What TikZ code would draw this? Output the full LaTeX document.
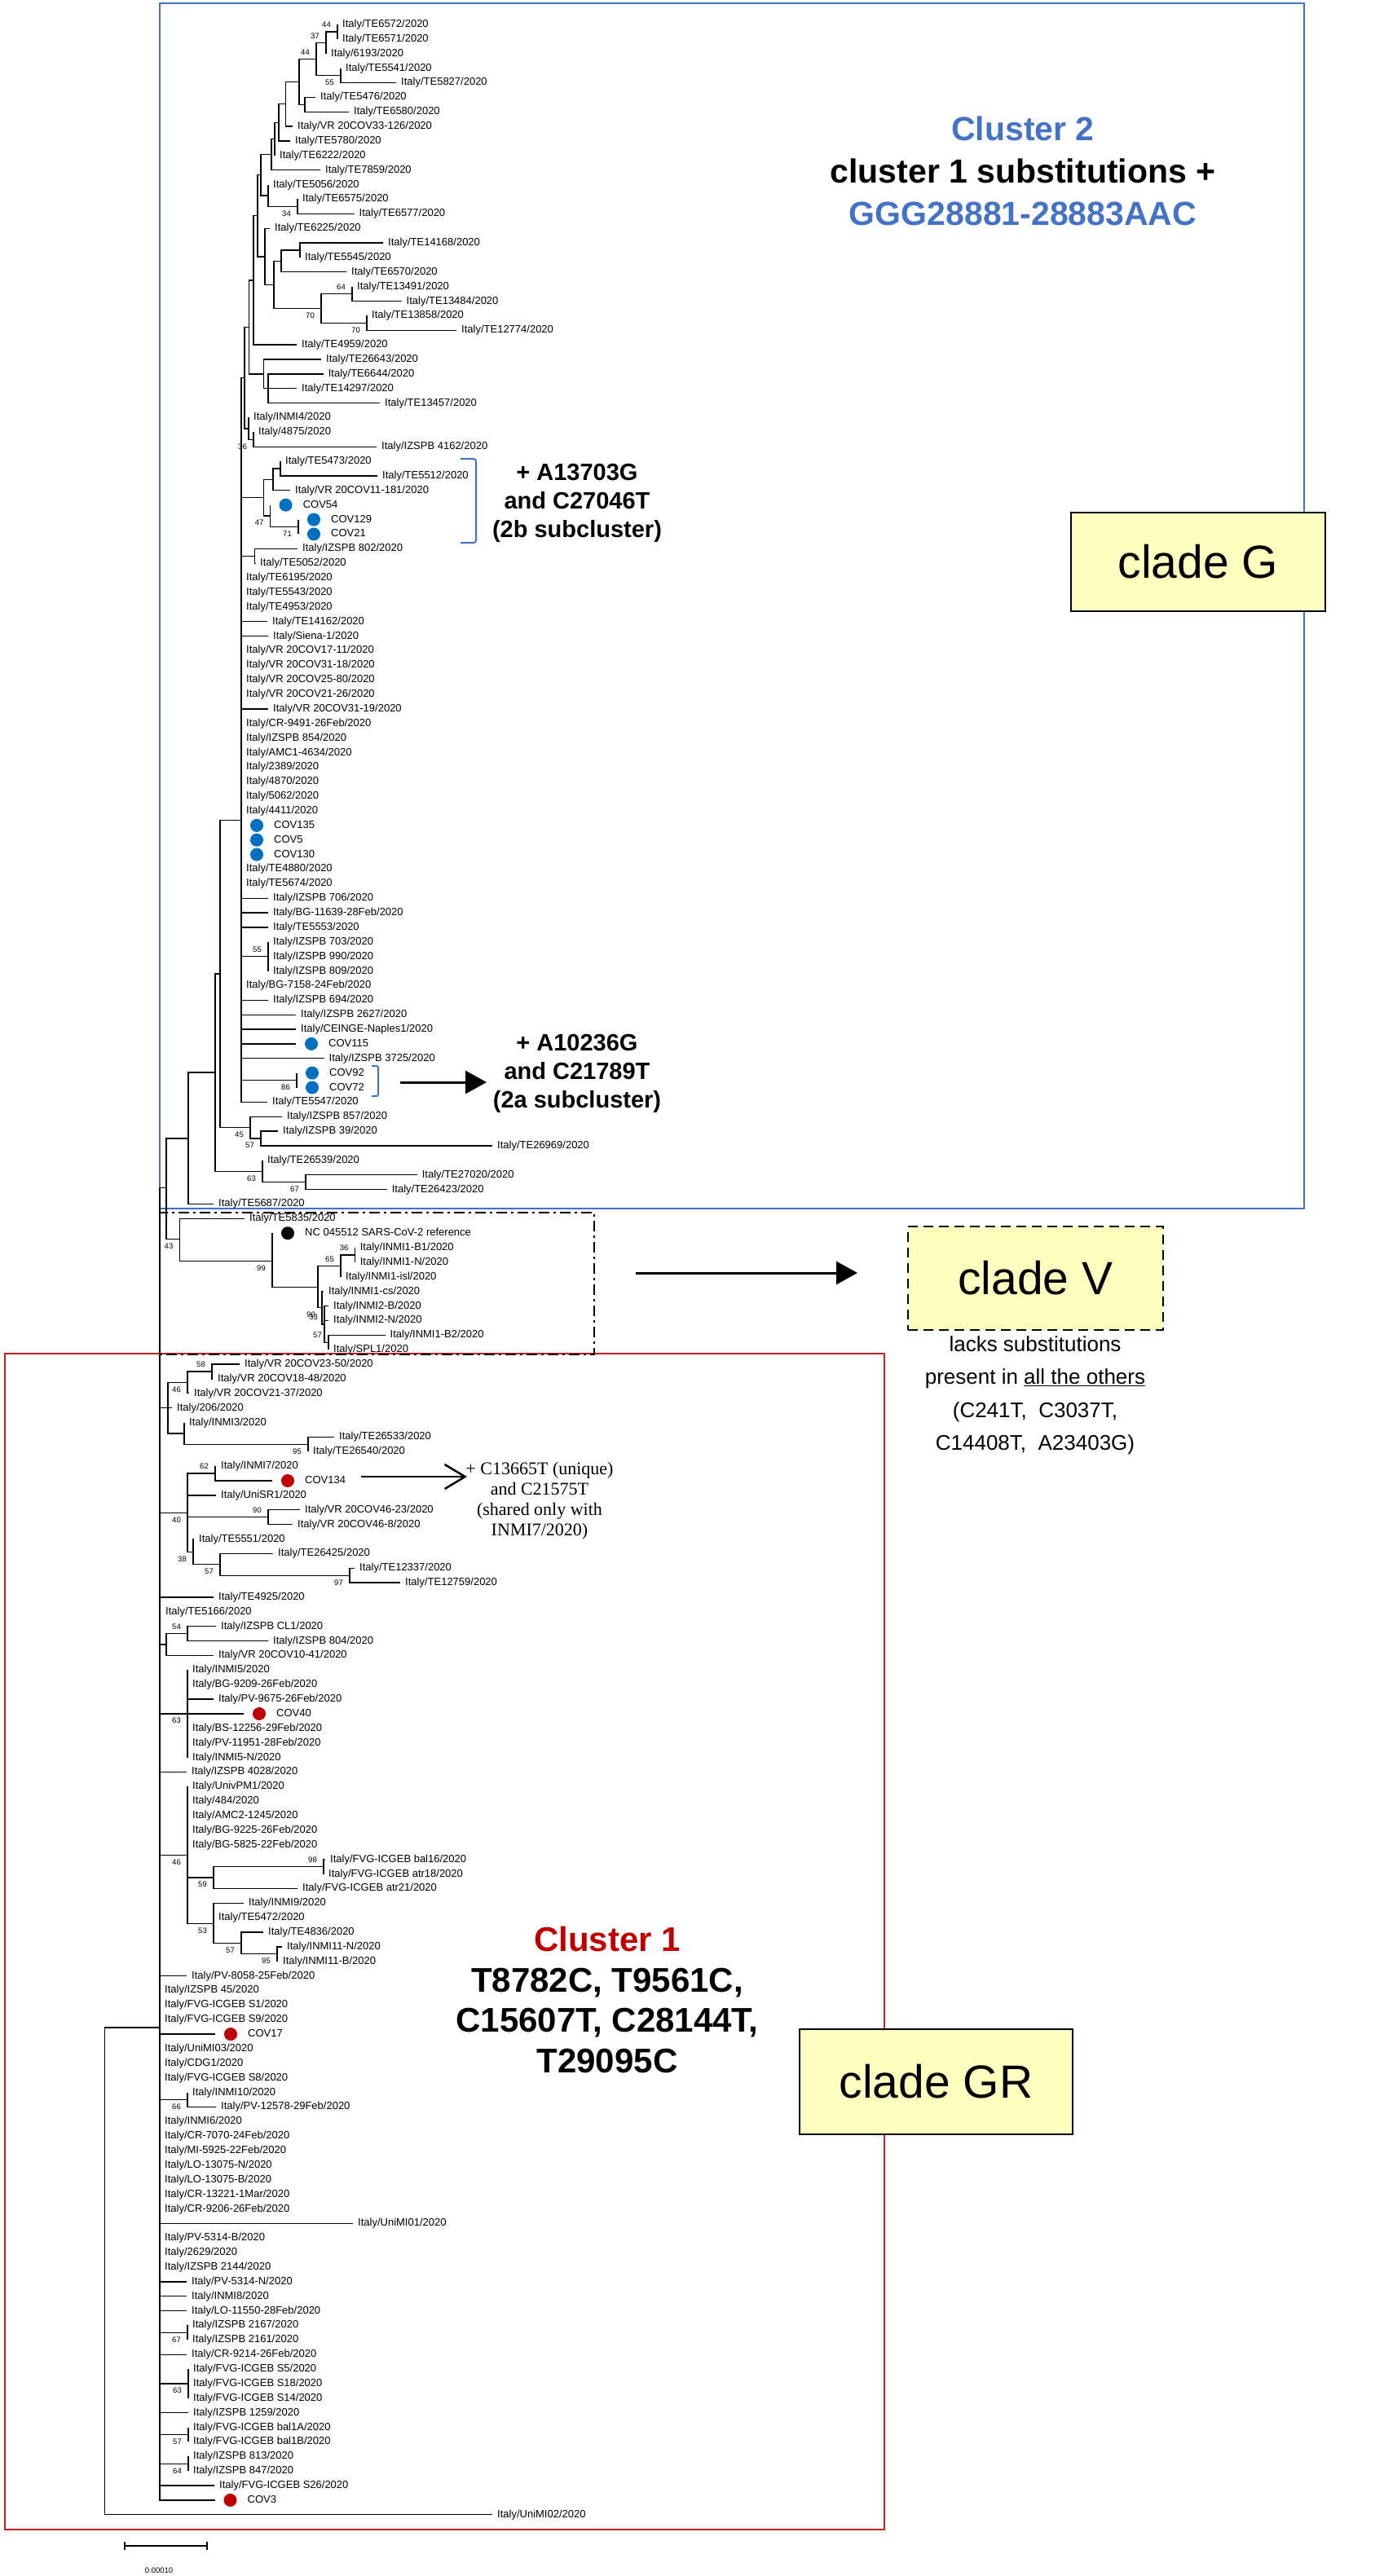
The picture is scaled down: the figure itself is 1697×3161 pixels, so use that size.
\documentclass[tikz,border=0pt]{standalone}
\usepackage{fontspec}
\setmainfont{Liberation Sans}
\newfontfamily\noteserif{Liberation Serif}
\usetikzlibrary{arrows.meta}
\definecolor{dotblue}{RGB}{0,112,192}
\definecolor{dotred}{RGB}{192,0,0}
\definecolor{frameblue}{RGB}{68,114,196}
\definecolor{framered}{RGB}{204,30,30}
\definecolor{cladefill}{RGB}{255,255,192}

\begin{document}
\begin{tikzpicture}[x=1pt, y=-1pt,
  br/.style={line width=1.3pt},
  lf/.style={anchor=west, inner xsep=6pt, inner ysep=0pt, text height=9.5pt, text depth=2.5pt, font=\fontsize{13}{15}\selectfont},
  cl/.style={lf, inner xsep=2pt},
  dotb/.style={circle, fill=dotblue, minimum size=16pt, inner sep=0pt, outer sep=11pt, anchor=west},
  dotr/.style={dotb, fill=dotred},
  dotk/.style={dotb, fill=black},
  bsa/.style={anchor=south east, inner sep=2pt, xshift=-6pt, yshift=3pt, font=\fontsize{9.5}{10}\selectfont},
  bsb/.style={anchor=north east, inner sep=2pt, xshift=-6pt, yshift=-3pt, font=\fontsize{9.5}{10}\selectfont},
  cbox/.style={draw, line width=2.5pt, fill=cladefill, inner sep=0pt, font=\fontsize{57}{60}\selectfont},
  fat/.style={line width=3pt, -{Triangle[length=26pt, width=28pt]}},
  barb/.style={line width=2.5pt, -{Straight Barb[length=25pt, width=30pt]}}
]
\useasboundingbox (0,0) rectangle (1697,3161);
\fill[white] (0,0) rectangle (1697,3161);

% frames
\draw[frameblue, line width=2pt] (196,4) rectangle (1600,1483);
\draw[framered, line width=2pt] (6,1661) rectangle (1085,3104);
\draw[line width=2.5pt, dash pattern=on 13pt off 5pt on 3pt off 5pt] (196,1488) rectangle (729,1662);

\begin{scope}[shift={(0,12.13)}, y=-17.87pt]
% cluster 2
\coordinate (n1) at (414,1.5);
\coordinate (n2) at (400,2.25);
\coordinate (n3) at (388,3.375);
\coordinate (n4) at (418,4.5);
\coordinate (n5) at (367,4.94);
\coordinate (n6) at (374,6.5);
\coordinate (n7) at (350.5,6.47);
\coordinate (n8) at (342,7.73);
\coordinate (n9) at (337,8.87);
\coordinate (n10) at (333,9.93);
\coordinate (n11) at (320,11.34);
\coordinate (n12) at (329,12.75);
\coordinate (n13) at (365,13.5);
\coordinate (n15) at (325,16.94);
\coordinate (n16) at (336,18.875);
\coordinate (n17) at (345,17.25);
\coordinate (n18) at (394,20.5);
\coordinate (n19) at (368,16.5);
\coordinate (n20) at (432,19.5);
\coordinate (n21) at (450,21.5);
\coordinate (n22) at (316,14.14);
\coordinate (n23) at (311,18.57);
\coordinate (n24) at (305.5,21.79);
\coordinate (n25) at (323.5,25);
\coordinate (n26) at (329,26);
\coordinate (n27) at (300,25.27);
\coordinate (n28) at (311,29.5);
\coordinate (n29) at (305,28.75);
\coordinate (n30) at (296,55.66);
\coordinate (n32) at (270,66.2);
\coordinate (n33) at (307,76.75);
\coordinate (n34) at (320,77.5);
\coordinate (n36) at (312.6,37.5);
\coordinate (n37) at (344,31.5);
\coordinate (n38) at (335,32.25);
\coordinate (n40) at (366,35.5);
\coordinate (n41) at (331.6,34.75);
\coordinate (n42) at (323.5,33.5);
\coordinate (n43) at (329,65);
\coordinate (n44) at (364,73.5);
\coordinate (n45) at (264,72.97);
\coordinate (n46) at (322,79.75);
\coordinate (n47) at (375,80.5);
\coordinate (n48) at (231,77.49);
\coordinate (n49) at (204,80.9);
% clade V
\coordinate (n50) at (220.5,84.4);
\coordinate (n51) at (334,85.93);
\coordinate (n52) at (390,87.7);
\coordinate (n53) at (418,86.25);
\coordinate (n55) at (435.6,85.5);
\coordinate (n56) at (395,89.1);
\coordinate (n58) at (398,90.25);
\coordinate (n57) at (403,91.5);
% cluster 1
\coordinate (A) at (196,138.55);
\coordinate (root) at (128.7,155.3);
\coordinate (nJ) at (260,93.5);
\coordinate (nK) at (230,94.25);
\coordinate (nL) at (206,96);
\coordinate (nM) at (226,97.75);
\coordinate (nQ) at (378,98.5);
\coordinate (nD) at (264,100.5);
\coordinate (nE) at (329,103.5);
\coordinate (nH) at (429,107.5);
\coordinate (nG) at (270,106.75);
\coordinate (nF) at (237,105.9);
\coordinate (nC) at (230,103.2);
\coordinate (nT) at (230,111.5);
\coordinate (nR) at (204,112.25);
\coordinate (nI5) at (230,117);
\coordinate (nV) at (397,127.5);
\coordinate (nU) at (262,128.25);
\coordinate (nY) at (340,133.5);
\coordinate (nX) at (296,132.75);
\coordinate (nW) at (262,131.4);
\coordinate (nS) at (230,126.7);
\coordinate (nZ) at (230,143.5);
\coordinate (n67) at (230,159.5);
\coordinate (n63) at (231,163);
\coordinate (n57b) at (231,166.5);
\coordinate (n64) at (231,168.5);

\node[lf] (l1) at (414,1) {Italy/TE6572/2020};
\node[lf] (l2) at (414,2) {Italy/TE6571/2020};
\node[lf] (l3) at (400,3) {Italy/6193/2020};
\node[lf] (l4) at (418,4) {Italy/TE5541/2020};
\node[lf] (l5) at (486,5) {Italy/TE5827/2020};
\node[lf] (l6) at (387,6) {Italy/TE5476/2020};
\node[lf] (l7) at (428,7) {Italy/TE6580/2020};
\node[lf] (l8) at (359,8) {Italy/VR 20COV33-126/2020};
\node[lf] (l9) at (356,9) {Italy/TE5780/2020};
\node[lf] (l10) at (337,10) {Italy/TE6222/2020};
\node[lf] (l11) at (393,11) {Italy/TE7859/2020};
\node[lf] (l12) at (329,12) {Italy/TE5056/2020};
\node[lf] (l13) at (365,13) {Italy/TE6575/2020};
\node[lf] (l14) at (434.5,14) {Italy/TE6577/2020};
\node[lf] (l15) at (331,15) {Italy/TE6225/2020};
\node[lf] (l16) at (470,16) {Italy/TE14168/2020};
\node[lf] (l17) at (368,17) {Italy/TE5545/2020};
\node[lf] (l18) at (425,18) {Italy/TE6570/2020};
\node[lf] (l19) at (432,19) {Italy/TE13491/2020};
\node[lf] (l20) at (492.5,20) {Italy/TE13484/2020};
\node[lf] (l21) at (450,21) {Italy/TE13858/2020};
\node[lf] (l22) at (560,22) {Italy/TE12774/2020};
\node[lf] (l23) at (364,23) {Italy/TE4959/2020};
\node[lf] (l24) at (394,24) {Italy/TE26643/2020};
\node[lf] (l25) at (396.6,25) {Italy/TE6644/2020};
\node[lf] (l26) at (364,26) {Italy/TE14297/2020};
\node[lf] (l27) at (466,27) {Italy/TE13457/2020};
\node[lf] (l28) at (305,28) {Italy/INMI4/2020};
\node[lf] (l29) at (311,29) {Italy/4875/2020};
\node[lf] (l30) at (462,30) {Italy/IZSPB 4162/2020};
\node[lf] (l31) at (344,31) {Italy/TE5473/2020};
\node[lf] (l32) at (463,32) {Italy/TE5512/2020};
\node[lf] (l33) at (356,33) {Italy/VR 20COV11-181/2020};
\node[dotb] (l34) at (331.6,34) {}; \node[cl] (l34t) at (l34.east) {COV54};
\node[dotb] (l35) at (366,35) {}; \node[cl] (l35t) at (l35.east) {COV129};
\node[dotb] (l36) at (366,36) {}; \node[cl] (l36t) at (l36.east) {COV21};
\node[lf] (l37) at (365,37) {Italy/IZSPB 802/2020};
\node[lf] (l38) at (313,38) {Italy/TE5052/2020};
\node[lf] (l39) at (296,39) {Italy/TE6195/2020};
\node[lf] (l40) at (296,40) {Italy/TE5543/2020};
\node[lf] (l41) at (296,41) {Italy/TE4953/2020};
\node[lf] (l42) at (328,42) {Italy/TE14162/2020};
\node[lf] (l43) at (329,43) {Italy/Siena-1/2020};
\node[lf] (l44) at (296,44) {Italy/VR 20COV17-11/2020};
\node[lf] (l45) at (296,45) {Italy/VR 20COV31-18/2020};
\node[lf] (l46) at (296,46) {Italy/VR 20COV25-80/2020};
\node[lf] (l47) at (296,47) {Italy/VR 20COV21-26/2020};
\node[lf] (l48) at (329,48) {Italy/VR 20COV31-19/2020};
\node[lf] (l49) at (296,49) {Italy/CR-9491-26Feb/2020};
\node[lf] (l50) at (296,50) {Italy/IZSPB 854/2020};
\node[lf] (l51) at (296,51) {Italy/AMC1-4634/2020};
\node[lf] (l52) at (296,52) {Italy/2389/2020};
\node[lf] (l53) at (296,53) {Italy/4870/2020};
\node[lf] (l54) at (296,54) {Italy/5062/2020};
\node[lf] (l55) at (296,55) {Italy/4411/2020};
\node[dotb] (l56) at (296,56) {}; \node[cl] (l56t) at (l56.east) {COV135};
\node[dotb] (l57) at (296,57) {}; \node[cl] (l57t) at (l57.east) {COV5};
\node[dotb] (l58) at (296,58) {}; \node[cl] (l58t) at (l58.east) {COV130};
\node[lf] (l59) at (296,59) {Italy/TE4880/2020};
\node[lf] (l60) at (296,60) {Italy/TE5674/2020};
\node[lf] (l61) at (329,61) {Italy/IZSPB 706/2020};
\node[lf] (l62) at (329,62) {Italy/BG-11639-28Feb/2020};
\node[lf] (l63) at (329,63) {Italy/TE5553/2020};
\node[lf] (l64) at (329,64) {Italy/IZSPB 703/2020};
\node[lf] (l65) at (329,65) {Italy/IZSPB 990/2020};
\node[lf] (l66) at (329,66) {Italy/IZSPB 809/2020};
\node[lf] (l67) at (296,67) {Italy/BG-7158-24Feb/2020};
\node[lf] (l68) at (329,68) {Italy/IZSPB 694/2020};
\node[lf] (l69) at (363,69) {Italy/IZSPB 2627/2020};
\node[lf] (l70) at (363,70) {Italy/CEINGE-Naples1/2020};
\node[dotb] (l71) at (363,71) {}; \node[cl] (l71t) at (l71.east) {COV115};
\node[lf] (l72) at (397.5,72) {Italy/IZSPB 3725/2020};
\node[dotb] (l73) at (364,73) {}; \node[cl] (l73t) at (l73.east) {COV92};
\node[dotb] (l74) at (364,74) {}; \node[cl] (l74t) at (l74.east) {COV72};
\node[lf] (l75) at (328,75) {Italy/TE5547/2020};
\node[lf] (l76) at (346,76) {Italy/IZSPB 857/2020};
\node[lf] (l77) at (341,77) {Italy/IZSPB 39/2020};
\node[lf] (l78) at (604,78) {Italy/TE26969/2020};
\node[lf] (l79) at (322,79) {Italy/TE26539/2020};
\node[lf] (l80) at (511.6,80) {Italy/TE27020/2020};
\node[lf] (l81) at (474.6,81) {Italy/TE26423/2020};
\node[lf] (l82) at (262,82) {Italy/TE5687/2020};
\node[lf] (l83) at (300,83) {Italy/TE5835/2020};
\node[dotk] (l84) at (334,84) {}; \node[cl] (l84t) at (l84.east) {NC 045512 SARS-CoV-2 reference};
\node[lf] (l85) at (435.6,85) {Italy/INMI1-B1/2020};
\node[lf] (l86) at (435.6,86) {Italy/INMI1-N/2020};
\node[lf] (l87) at (418,87) {Italy/INMI1-isl/2020};
\node[lf] (l88) at (397,88) {Italy/INMI1-cs/2020};
\node[lf] (l89) at (403,89) {Italy/INMI2-B/2020};
\node[lf] (l90) at (403,90) {Italy/INMI2-N/2020};
\node[lf] (l91) at (472.5,91) {Italy/INMI1-B2/2020};
\node[lf] (l92) at (403,92) {Italy/SPL1/2020};
\node[lf] (l93) at (294,93) {Italy/VR 20COV23-50/2020};
\node[lf] (l94) at (261,94) {Italy/VR 20COV18-48/2020};
\node[lf] (l95) at (232,95) {Italy/VR 20COV21-37/2020};
\node[lf] (l96) at (211,96) {Italy/206/2020};
\node[lf] (l97) at (226,97) {Italy/INMI3/2020};
\node[lf] (l98) at (410,98) {Italy/TE26533/2020};
\node[lf] (l99) at (378,99) {Italy/TE26540/2020};
\node[lf] (l100) at (265,100) {Italy/INMI7/2020};
\node[dotr] (l101) at (334,101) {}; \node[cl] (l101t) at (l101.east) {COV134};
\node[lf] (l102) at (265,102) {Italy/UniSR1/2020};
\node[lf] (l103) at (368,103) {Italy/VR 20COV46-23/2020};
\node[lf] (l104) at (359,104) {Italy/VR 20COV46-8/2020};
\node[lf] (l105) at (238,105) {Italy/TE5551/2020};
\node[lf] (l106) at (335,106) {Italy/TE26425/2020};
\node[lf] (l107) at (435,107) {Italy/TE12337/2020};
\node[lf] (l108) at (491,108) {Italy/TE12759/2020};
\node[lf] (l109) at (262,109) {Italy/TE4925/2020};
\node[lf] (l110) at (197,110) {Italy/TE5166/2020};
\node[lf] (l111) at (265,111) {Italy/IZSPB CL1/2020};
\node[lf] (l112) at (329,112) {Italy/IZSPB 804/2020};
\node[lf] (l113) at (262,113) {Italy/VR 20COV10-41/2020};
\node[lf] (l114) at (230,114) {Italy/INMI5/2020};
\node[lf] (l115) at (230,115) {Italy/BG-9209-26Feb/2020};
\node[lf] (l116) at (262,116) {Italy/PV-9675-26Feb/2020};
\node[dotr] (l117) at (299,117) {}; \node[cl] (l117t) at (l117.east) {COV40};
\node[lf] (l118) at (230,118) {Italy/BS-12256-29Feb/2020};
\node[lf] (l119) at (230,119) {Italy/PV-11951-28Feb/2020};
\node[lf] (l120) at (230,120) {Italy/INMI5-N/2020};
\node[lf] (l121) at (229,121) {Italy/IZSPB 4028/2020};
\node[lf] (l122) at (230,122) {Italy/UnivPM1/2020};
\node[lf] (l123) at (230,123) {Italy/484/2020};
\node[lf] (l124) at (230,124) {Italy/AMC2-1245/2020};
\node[lf] (l125) at (230,125) {Italy/BG-9225-26Feb/2020};
\node[lf] (l126) at (230,126) {Italy/BG-5825-22Feb/2020};
\node[lf] (l127) at (399,127) {Italy/FVG-ICGEB bal16/2020};
\node[lf] (l128) at (397,128) {Italy/FVG-ICGEB atr18/2020};
\node[lf] (l129) at (365,129) {Italy/FVG-ICGEB atr21/2020};
\node[lf] (l130) at (299,130) {Italy/INMI9/2020};
\node[lf] (l131) at (262,131) {Italy/TE5472/2020};
\node[lf] (l132) at (323,132) {Italy/TE4836/2020};
\node[lf] (l133) at (346,133) {Italy/INMI11-N/2020};
\node[lf] (l134) at (341,134) {Italy/INMI11-B/2020};
\node[lf] (l135) at (229,135) {Italy/PV-8058-25Feb/2020};
\node[lf] (l136) at (196,136) {Italy/IZSPB 45/2020};
\node[lf] (l137) at (196,137) {Italy/FVG-ICGEB S1/2020};
\node[lf] (l138) at (196,138) {Italy/FVG-ICGEB S9/2020};
\node[dotr] (l139) at (264,139) {}; \node[cl] (l139t) at (l139.east) {COV17};
\node[lf] (l140) at (196,140) {Italy/UniMI03/2020};
\node[lf] (l141) at (196,141) {Italy/CDG1/2020};
\node[lf] (l142) at (196,142) {Italy/FVG-ICGEB S8/2020};
\node[lf] (l143) at (230,143) {Italy/INMI10/2020};
\node[lf] (l144) at (265,144) {Italy/PV-12578-29Feb/2020};
\node[lf] (l145) at (196,145) {Italy/INMI6/2020};
\node[lf] (l146) at (196,146) {Italy/CR-7070-24Feb/2020};
\node[lf] (l147) at (196,147) {Italy/MI-5925-22Feb/2020};
\node[lf] (l148) at (196,148) {Italy/LO-13075-N/2020};
\node[lf] (l149) at (196,149) {Italy/LO-13075-B/2020};
\node[lf] (l150) at (196,150) {Italy/CR-13221-1Mar/2020};
\node[lf] (l151) at (196,151) {Italy/CR-9206-26Feb/2020};
\node[lf] (l152) at (433,152) {Italy/UniMI01/2020};
\node[lf] (l153) at (196,153) {Italy/PV-5314-B/2020};
\node[lf] (l154) at (196,154) {Italy/2629/2020};
\node[lf] (l155) at (196,155) {Italy/IZSPB 2144/2020};
\node[lf] (l156) at (229,156) {Italy/PV-5314-N/2020};
\node[lf] (l157) at (229,157) {Italy/INMI8/2020};
\node[lf] (l158) at (229,158) {Italy/LO-11550-28Feb/2020};
\node[lf] (l159) at (230,159) {Italy/IZSPB 2167/2020};
\node[lf] (l160) at (230,160) {Italy/IZSPB 2161/2020};
\node[lf] (l161) at (229,161) {Italy/CR-9214-26Feb/2020};
\node[lf] (l162) at (231,162) {Italy/FVG-ICGEB S5/2020};
\node[lf] (l163) at (231,163) {Italy/FVG-ICGEB S18/2020};
\node[lf] (l164) at (231,164) {Italy/FVG-ICGEB S14/2020};
\node[lf] (l165) at (231,165) {Italy/IZSPB 1259/2020};
\node[lf] (l166) at (231,166) {Italy/FVG-ICGEB bal1A/2020};
\node[lf] (l167) at (231,167) {Italy/FVG-ICGEB bal1B/2020};
\node[lf] (l168) at (231,168) {Italy/IZSPB 813/2020};
\node[lf] (l169) at (231,169) {Italy/IZSPB 847/2020};
\node[lf] (l170) at (263,170) {Italy/FVG-ICGEB S26/2020};
\node[dotr] (l171) at (263.5,171) {}; \node[cl] (l171t) at (l171.east) {COV3};
\node[lf] (l172) at (604,172) {Italy/UniMI02/2020};

% bootstrap values
\node[bsa] (b1) at (n1) {44};
\node[bsa] (b2) at (n2) {37};
\node[bsa] (b3) at (n3) {44};
\node[bsb] (b4) at (n4) {55};
\node[bsb] (b13) at (n13) {34};
\node[bsa] (b20) at (n20) {64};
\node[bsb] (b18) at (n18) {70};
\node[bsb] (b21) at (n21) {70};
\node[bsb] (b28) at (n28) {36};
\node[bsb] (b41) at (n41) {47};
\node[bsb] (b40) at (n40) {71};
\node[bsa] (b43) at (n43) {55};
\node[bsb] (b44) at (n44) {86};
\node[bsb] (b33) at (n33) {45};
\node[bsb] (b34) at (n34) {57};
\node[bsb] (b46) at (n46) {63};
\node[bsb] (b47) at (n47) {67};
\node[bsb] (b50) at (n50) {43};
\node[bsb] (b51) at (n51) {99};
\node[bsa] (b53) at (n53) {65};
\node[bsa] (b55) at (n55) {36};
\node[bsb] (b56) at (n56) {90};
\node[bsa] (b58) at (n58) {33};
\node[bsa] (b57) at (n57) {57};
\node[bsa] (bJ) at (nJ) {58};
\node[bsb] (bK) at (nK) {46};
\node[bsb] (bQ) at (nQ) {95};
\node[bsa] (bD) at (nD) {62};
\node[bsa] (bE) at (nE) {90};
\node[bsb] (bC) at (nC) {40};
\node[bsb] (bF) at (nF) {38};
\node[bsb] (bG) at (nG) {57};
\node[bsb] (bH) at (nH) {97};
\node[bsa] (bT) at (nT) {54};
\node[bsb] (bI5) at (nI5) {63};
\node[bsb] (bS) at (nS) {46};
\node[bsa] (bV) at (nV) {98};
\node[bsb] (bU) at (nU) {59};
\node[bsb] (bW) at (nW) {53};
\node[bsb] (bX) at (nX) {57};
\node[bsb] (bY) at (nY) {95};
\node[bsb] (bZ) at (nZ) {66};
\node[bsb] (b67) at (n67) {67};
\node[bsb] (b63) at (n63) {63};
\node[bsb] (b57b) at (n57b) {57};
\node[bsb] (b64) at (n64) {64};

% branches
\foreach \p/\c in {n1/l1,n1/l2,n2/n1,n2/l3,n4/l4,n4/l5,n3/n2,n3/n4,n6/l6,n6/l7,n5/n3,n5/n6,
  n7/n5,n7/l8,n8/n7,n8/l9,n9/n8,n9/l10,n10/n9,n10/l11,n13/l13,n13/l14,n12/l12,n12/n13,
  n11/n10,n11/n12,n19/l16,n19/l17,n17/n19,n17/l18,n20/l19,n20/l20,n21/l21,n21/l22,
  n18/n20,n18/n21,n16/n17,n16/n18,n15/l15,n15/n16,n22/n11,n22/n15,n23/n22,n23/l23,
  n26/l25,n26/l26,n26/l27,n25/l24,n25/n26,n24/n23,n24/n25,n28/l29,n28/l30,n29/l28,
  n29/n28,n27/n24,n27/n29,n37/l31,n37/l32,n38/n37,n38/l33,n40/l35,n40/l36,n41/l34,
  n41/n40,n42/n38,n42/n41,n36/l37,n36/l38,n43/l64,n43/l65,n43/l66,n44/l73,n44/l74,
  n30/n27,n30/n42,n30/n36,n30/n43,n30/n44,n30/l75,n34/l77,n34/l78,n33/l76,n33/n34,
  n32/n30,n32/n33,n47/l80,n47/l81,n46/l79,n46/n47,n45/n32,n45/n46,n48/n45,n48/l82}
  \draw[br] (\p) |- (\c);
\foreach \i in {39,...,63} \draw[br] (n30) |- (l\i);
\foreach \i in {67,...,72} \draw[br] (n30) |- (l\i);
\foreach \p/\c in {n55/l85,n55/l86,n53/n55,n53/l87,n57/l91,n57/l92,n58/l89,n58/l90,n58/n57,
  n56/l88,n56/n58,n52/n53,n52/n56,n51/l84,n51/n52,n50/l83,n50/n51,n49/n48,n49/n50}
  \draw[br] (\p) |- (\c);
\foreach \p/\c in {nJ/l93,nJ/l94,nK/nJ,nK/l95,nQ/l98,nQ/l99,nM/l97,nM/nQ,nL/nK,nL/l96,nL/nM,
  nD/l100,nD/l101,nE/l103,nE/l104,nH/l107,nH/l108,nG/l106,nG/nH,nF/l105,nF/nG,
  nC/nD,nC/l102,nC/nE,nC/nF,nT/l111,nT/l112,nR/nT,nR/l113,nV/l127,nV/l128,nU/nV,nU/l129,
  nY/l133,nY/l134,nX/l132,nX/nY,nW/l130,nW/l131,nW/nX,nS/nU,nS/nW,nZ/l143,nZ/l144,
  n67/l159,n67/l160,n57b/l166,n57b/l167,n64/l168,n64/l169,root/A,root/l172}
  \draw[br] (\p) |- (\c);
\foreach \i in {114,...,120} \draw[br] (nI5) |- (l\i);
\foreach \i in {122,...,126} \draw[br] (nS) |- (l\i);
\foreach \i in {162,...,164} \draw[br] (n63) |- (l\i);
\foreach \c in {n49,nL,nC,l109,l110,nR,nI5,l121,nS,nZ,n67,l161,n63,l165,n57b,n64,l170,l171}
  \draw[br] (A) |- (\c);
\foreach \i in {135,...,142} \draw[br] (A) |- (l\i);
\foreach \i in {145,...,158} \draw[br] (A) |- (l\i);
\end{scope}

% subcluster brackets and notes
\draw[frameblue, line width=2pt, rounded corners=3pt] (565,563) -- (584,563) -- (584,666) -- (565,666);
\draw[frameblue, line width=2pt, rounded corners=2pt] (456,1308) -- (464,1308) -- (464,1345) -- (456,1345);
\node[font=\bfseries\fontsize{29}{35}\selectfont, align=center] (t2b) at (708,617) {+ A13703G\\and C27046T\\(2b subcluster)};
\node[font=\bfseries\fontsize{29}{35}\selectfont, align=center] (t2a) at (708,1317) {+ A10236G\\and C21789T\\(2a subcluster)};
\coordinate (a2s) at (491,1328);
\coordinate (a2e) at (597,1328);
\draw[fat] (a2s) -- (a2e);

\node[font=\bfseries\fontsize{41}{52}\selectfont, align=center] (c2t) at (1255,210)
  {\textcolor{frameblue}{Cluster 2}\\cluster 1 substitutions +\\\textcolor{frameblue}{GGG28881-28883AAC}};
\node[font=\bfseries\fontsize{42}{49.5}\selectfont, align=center] (c1t) at (745,2454)
  {\textcolor{dotred}{Cluster 1}\\T8782C, T9561C,\\C15607T, C28144T,\\T29095C};

% clades
\node[cbox, minimum width=312pt, minimum height=121pt] (cg) at (1470,689.5) {clade G};
\node[cbox, dash pattern=on 12pt off 7pt, minimum width=313pt, minimum height=127pt] (cv) at (1270.5,1568.5) {clade V};
\node[cbox, minimum width=335pt, minimum height=129pt] (cgr) at (1148.5,2554.5) {clade GR};
\node[font=\fontsize{26}{40.5}\selectfont, align=center] (lk) at (1270,1712)
  {lacks substitutions\\present in \underline{all the others}\\(C241T,\ \ C3037T,\\C14408T,\ \ A23403G)};
\coordinate (avs) at (780,1562);
\coordinate (ave) at (1052,1562);
\draw[fat] (avs) -- (ave);

\node[font=\noteserif\fontsize{22}{25}\selectfont, align=center] (note) at (662,1842)
  {+ C13665T (unique)\\and C21575T\\(shared only with\\INMI7/2020)};
\coordinate (a134s) at (443,1812);
\coordinate (a134e) at (573,1812);
\draw[barb] (a134s) -- (a134e);

% scale bar
\draw[line width=1.5pt] (153,3119) -- (153,3129) (153,3124) -- (254,3124) (254,3119) -- (254,3129);
\node[font=\fontsize{9.5}{10}\selectfont] (sb) at (195,3154) {0.00010};
\end{tikzpicture}
\end{document}
